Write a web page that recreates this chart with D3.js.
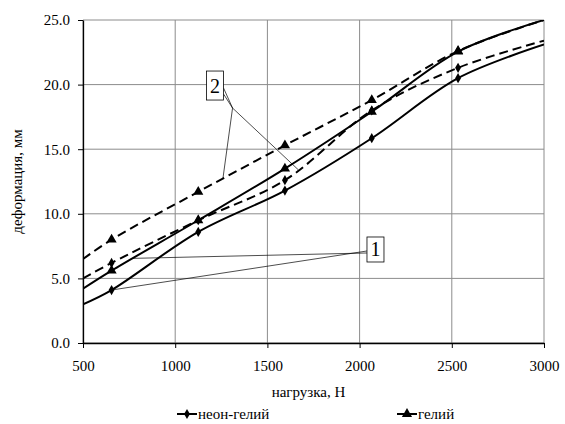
<!DOCTYPE html>
<meta charset="utf-8">
<style>
body { margin: 0; background: #fff; }
svg text { font-family: "Liberation Serif", serif; }
.grid line { stroke: #8c8c8c; stroke-width: 1px; }
.axis path, .axis line { stroke: #000; }
.curve { fill: none; stroke: #000; stroke-width: 2px; }
.dashed { stroke-dasharray: 9 5; }
.leader { fill: none; stroke: #000; stroke-width: 0.7px; }
.callout { fill: #fff; stroke: #000; stroke-width: 0.8px; }
</style>
<body>
<script src="https://cdn.jsdelivr.net/npm/d3@7"></script>
<script>
var width = 565,
    height = 424;

// нагрузка, Н
var loads = [500, 655, 1125, 1595, 2066, 2534, 3000];
// деформация, мм
var neonHeliumLoad   = [3.0, 4.1, 8.6, 11.8, 15.85, 20.5, 23.1];
var heliumLoad       = [4.2, 5.6, 9.5, 13.5, 17.9, 22.55, 25.0];
var neonHeliumUnload = [5.0, 6.2, 9.5, 12.6, 18.0, 21.3, 23.4];
var heliumUnload     = [6.5, 8.0, 11.7, 15.3, 18.8, 22.6, 25.0];

var xTicks = [500, 1000, 1500, 2000, 2500, 3000];
var yTicks = [0, 5, 10, 15, 20, 25];

// callouts: label, box corner (data units), leader targets
var callout1 = {label: "1", box: [2040, 6.27], targets: [[655, 4.1], [771, 6.55]]};
var callout2 = {label: "2", box: [1170, 21.05], targets: [[1259, 12.75], [1668, 13.4]]};

var margin = {top: 20, right: 21, bottom: 81, left: 83};
var fontSize = "15px";

var x = d3.scaleLinear().domain([500, 3000]).range([margin.left, width - margin.right]);
var y = d3.scaleLinear().domain([0, 25]).range([height - margin.bottom, margin.top]);

var svg = d3.select("body").append("svg")
    .attr("width", width)
    .attr("height", height);

var grid = svg.append("g").attr("class", "grid");

grid.selectAll("line.v")
    .data(xTicks)
  .enter().append("line")
    .attr("class", "v")
    .attr("x1", function(d) { return x(d); })
    .attr("x2", function(d) { return x(d); })
    .attr("y1", y(0))
    .attr("y2", y(25));

grid.selectAll("line.h")
    .data(yTicks)
  .enter().append("line")
    .attr("class", "h")
    .attr("x1", x(500))
    .attr("x2", x(3000))
    .attr("y1", function(d) { return y(d); })
    .attr("y2", function(d) { return y(d); });

function styleAxis(g) {
  g.attr("font-family", null).attr("font-size", null);
  g.selectAll("text")
      .style("font-family", "'Liberation Serif', serif")
      .style("font-size", fontSize);
}

svg.append("g")
    .attr("class", "axis")
    .attr("transform", "translate(0," + y(0) + ")")
    .call(d3.axisBottom(x).tickValues(xTicks).tickFormat(d3.format("d")).tickSize(5).tickSizeOuter(0).tickPadding(12))
    .call(styleAxis);

svg.append("g")
    .attr("class", "axis")
    .attr("transform", "translate(" + x(500) + ",0)")
    .call(d3.axisLeft(y).tickValues(yTicks).tickFormat(d3.format(".1f")).tickSize(5).tickSizeOuter(0).tickPadding(8))
    .call(styleAxis);

svg.selectAll(".axis .domain").attr("stroke-width", 1.3);

var line = d3.line()
    .x(function(d) { return x(d[0]); })
    .y(function(d) { return y(d[1]); })
    .curve(d3.curveCatmullRom.alpha(0.5));

var series = [
  {values: neonHeliumLoad, dashed: false, marker: "diamond"},
  {values: heliumLoad, dashed: false, marker: "triangle"},
  {values: neonHeliumUnload, dashed: true, marker: "diamond"},
  {values: heliumUnload, dashed: true, marker: "triangle"}
];

svg.append("clipPath").attr("id", "plot")
  .append("rect")
    .attr("x", x(500)).attr("y", y(25))
    .attr("width", x(3000) - x(500)).attr("height", y(0) - y(25));

var symbols = {
  diamond: d3.symbol().type(d3.symbolDiamond).size(30),
  triangle: d3.symbol().type(d3.symbolTriangle).size(45)
};

series.forEach(function(s) {
  var pts = loads.map(function(l, i) { return [l, s.values[i]]; });
  svg.append("path")
      .datum(pts)
      .attr("class", "curve" + (s.dashed ? " dashed" : ""))
      .attr("clip-path", "url(#plot)")
      .attr("d", line);
  svg.append("g").selectAll("path")
      .data(pts.filter(function(p) { return p[0] > 500 && p[0] < 3000; }))
    .enter().append("path")
      .attr("transform", function(d) { return "translate(" + x(d[0]) + "," + y(d[1]) + ")"; })
      .attr("d", symbols[s.marker]);
});

// callout 1: leaders start at the box's left edge
(function(c) {
  var bx = x(c.box[0]), by = y(c.box[1]);
  var w = 17, h = 25;
  c.targets.forEach(function(t, i) {
    svg.append("path")
        .attr("class", "leader")
        .attr("d", d3.line()([[bx, by - 11 + i * 2], [x(t[0]), y(t[1])]]));
  });
  svg.append("rect").attr("class", "callout")
      .attr("x", bx).attr("y", by - h).attr("width", w).attr("height", h);
  svg.append("text")
      .attr("x", bx + w / 2).attr("y", by - 6)
      .attr("text-anchor", "middle")
      .style("font-size", "20px")
      .text(c.label);
})(callout1);

// callout 2: leaders leave the right edge, bend, then go down to the curves
(function(c) {
  var bx = x(c.box[0]), by = y(c.box[1]);
  var w = 17, h = 29;
  var bend = [bx + w + 9, by + h + 8];
  c.targets.forEach(function(t, i) {
    svg.append("path")
        .attr("class", "leader")
        .attr("d", d3.line()([[bx + w, by + 17 + i * 6], bend, [x(t[0]), y(t[1])]]));
  });
  svg.append("rect").attr("class", "callout")
      .attr("x", bx).attr("y", by).attr("width", w).attr("height", h);
  svg.append("text")
      .attr("x", bx + w / 2).attr("y", by + 22)
      .attr("text-anchor", "middle")
      .style("font-size", "20px")
      .text(c.label);
})(callout2);

svg.append("text")
    .attr("transform", "translate(22," + (y(12.5)) + ") rotate(-90)")
    .attr("text-anchor", "middle")
    .style("font-size", fontSize)
    .text("деформация, мм");

svg.append("text")
    .attr("x", (x(500) + x(3000)) / 2 - 5)
    .attr("y", 397)
    .attr("text-anchor", "middle")
    .style("font-size", fontSize)
    .text("нагрузка, Н");

var legend = [
  {name: "неон-гелий", marker: "diamond", x: 177},
  {name: "гелий", marker: "triangle", x: 397}
];
var lg = svg.append("g").selectAll("g")
    .data(legend)
  .enter().append("g")
    .attr("transform", function(d) { return "translate(" + d.x + ",414)"; });
lg.append("line")
    .attr("x1", 0).attr("x2", 20)
    .attr("stroke", "#000").attr("stroke-width", 2);
lg.append("path")
    .attr("transform", "translate(10,0)")
    .attr("d", function(d) { return symbols[d.marker](); });
lg.append("text")
    .attr("x", 21).attr("y", 5)
    .style("font-size", fontSize)
    .text(function(d) { return d.name; });
</script>
</body>
